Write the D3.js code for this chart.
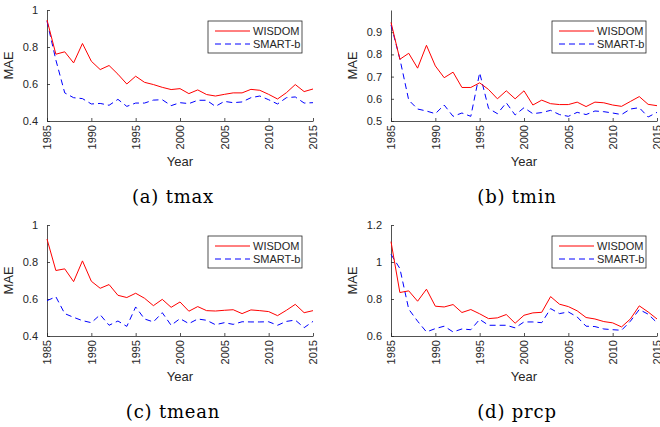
<!DOCTYPE html>
<html>
<head>
<meta charset="utf-8">
<script src="https://cdn.jsdelivr.net/npm/d3@7"></script>
<style>
  body { margin: 0; background: #fff; }
  svg text { font-family: "Liberation Sans", Arial, sans-serif; }
  svg text.cap { font-family: "DejaVu Serif", "Liberation Serif", serif; letter-spacing: 0.8px; }
</style>
</head>
<body>
<svg id="chart" width="660" height="427"></svg>
<script>
// years on the x axis
const years = d3.range(1985, 2016);
const xTicks = [1985, 1990, 1995, 2000, 2005, 2010, 2015];

// (a) tmax
const tmaxWisdom = [0.946, 0.761, 0.774, 0.714, 0.819, 0.723, 0.678, 0.700, 0.653, 0.600, 0.642,
  0.609, 0.597, 0.582, 0.570, 0.575, 0.548, 0.568, 0.543, 0.535, 0.544, 0.552, 0.552, 0.571,
  0.566, 0.544, 0.519, 0.553, 0.597, 0.559, 0.573];
const tmaxSmart = [0.940, 0.730, 0.552, 0.526, 0.521, 0.492, 0.495, 0.485, 0.517, 0.479, 0.497,
  0.497, 0.513, 0.515, 0.483, 0.499, 0.494, 0.512, 0.512, 0.479, 0.506, 0.499, 0.503, 0.526,
  0.535, 0.515, 0.492, 0.526, 0.530, 0.497, 0.499];

// (b) tmin
const tminWisdom = [0.944, 0.778, 0.805, 0.738, 0.841, 0.748, 0.695, 0.720, 0.651, 0.651, 0.672,
  0.642, 0.600, 0.636, 0.600, 0.636, 0.572, 0.594, 0.578, 0.574, 0.574, 0.585, 0.565, 0.585,
  0.582, 0.572, 0.566, 0.588, 0.610, 0.575, 0.569];
const tminSmart = [0.933, 0.780, 0.594, 0.554, 0.545, 0.533, 0.572, 0.521, 0.536, 0.521, 0.717,
  0.557, 0.533, 0.582, 0.527, 0.560, 0.533, 0.538, 0.548, 0.529, 0.521, 0.539, 0.529, 0.545,
  0.542, 0.536, 0.529, 0.554, 0.560, 0.518, 0.539];

// (c) tmean
const tmeanWisdom = [0.924, 0.754, 0.763, 0.694, 0.806, 0.696, 0.658, 0.678, 0.620, 0.608, 0.631,
  0.604, 0.564, 0.598, 0.555, 0.584, 0.534, 0.559, 0.537, 0.535, 0.539, 0.542, 0.521, 0.541,
  0.537, 0.532, 0.510, 0.539, 0.571, 0.526, 0.537];
const tmeanSmart = [0.591, 0.612, 0.521, 0.501, 0.483, 0.472, 0.515, 0.458, 0.481, 0.452, 0.557,
  0.492, 0.476, 0.526, 0.458, 0.494, 0.467, 0.492, 0.485, 0.461, 0.472, 0.463, 0.477, 0.476,
  0.476, 0.477, 0.458, 0.479, 0.486, 0.445, 0.479];

// (d) prcp
const prcpWisdom = [1.110, 0.835, 0.844, 0.788, 0.853, 0.761, 0.757, 0.770, 0.727, 0.743, 0.720,
  0.694, 0.698, 0.716, 0.669, 0.712, 0.725, 0.728, 0.813, 0.772, 0.759, 0.736, 0.700, 0.692,
  0.678, 0.671, 0.649, 0.692, 0.763, 0.730, 0.692];
const prcpSmart = [1.041, 0.965, 0.745, 0.680, 0.622, 0.640, 0.653, 0.622, 0.638, 0.634, 0.690,
  0.658, 0.658, 0.658, 0.644, 0.676, 0.676, 0.672, 0.748, 0.721, 0.730, 0.703, 0.653, 0.651,
  0.638, 0.634, 0.631, 0.680, 0.743, 0.718, 0.672];

const seriesNames = ['WISDOM', 'SMART-b'];

const panels = [
  { cap: '(a) tmax', w: tmaxWisdom, s: tmaxSmart, dom: [0.4, 1], ticks: [0.4, 0.6, 0.8, 1], x0: 47, y0: 10, capX: 173, capY: 203 },
  { cap: '(b) tmin', w: tminWisdom, s: tminSmart, dom: [0.5, 1], ticks: [0.5, 0.6, 0.7, 0.8, 0.9], x0: 391, y0: 10, capX: 517, capY: 203 },
  { cap: '(c) tmean', w: tmeanWisdom, s: tmeanSmart, dom: [0.4, 1], ticks: [0.4, 0.6, 0.8, 1], x0: 47, y0: 225, capX: 173, capY: 418 },
  { cap: '(d) prcp', w: prcpWisdom, s: prcpSmart, dom: [0.6, 1.2], ticks: [0.6, 0.8, 1, 1.2], x0: 391, y0: 225, capX: 517, capY: 418 }
];

const W = 266, H = 111;
const axisCol = '#262626';
const svg = d3.select('#chart');

panels.forEach(function (p) {
  const g = svg.append('g').attr('transform', 'translate(' + p.x0 + ',' + p.y0 + ')');
  const x = d3.scaleLinear().domain([1985, 2015]).range([0, W]);
  const y = d3.scaleLinear().domain(p.dom).range([H, 0]);

  // x axis
  const xa = g.append('g').attr('transform', 'translate(0,' + H + ')')
    .call(d3.axisBottom(x).tickValues(xTicks).tickFormat(d3.format('d')).tickSizeInner(-3).tickSizeOuter(0));
  xa.selectAll('text')
    .attr('transform', 'rotate(-90)')
    .attr('text-anchor', 'end')
    .attr('x', -4).attr('y', 0).attr('dy', '0.35em');

  // y axis
  const ya = g.append('g')
    .call(d3.axisLeft(y).tickValues(p.ticks).tickFormat(d3.format('~g')).tickSizeInner(-3).tickSizeOuter(0).tickPadding(9));

  [xa, ya].forEach(function (a) {
    a.select('.domain').attr('stroke', axisCol).attr('stroke-width', 0.8);
    a.selectAll('.tick line').attr('stroke', axisCol).attr('stroke-width', 0.8);
    a.selectAll('text').attr('fill', axisCol).style('font-size', '11px');
  });

  g.append('text').attr('x', W / 2).attr('y', H + 45)
    .attr('text-anchor', 'middle').attr('fill', axisCol).style('font-size', '13px').text('Year');
  g.append('text').attr('transform', 'translate(-34,' + (H / 2) + ') rotate(-90)')
    .attr('text-anchor', 'middle').attr('fill', axisCol).style('font-size', '13px').text('MAE');

  const line = d3.line().x(function (d, i) { return x(years[i]); }).y(function (d) { return y(d); });

  g.append('path').datum(p.s).attr('d', line)
    .attr('fill', 'none').attr('stroke', '#0000ff').attr('stroke-width', 1)
    .attr('stroke-dasharray', '6,4');
  g.append('path').datum(p.w).attr('d', line)
    .attr('fill', 'none').attr('stroke', '#ff0000').attr('stroke-width', 1);

  // legend
  const lg = g.append('g').attr('transform', 'translate(' + (W - 105) + ',11)');
  lg.append('rect').attr('width', 94).attr('height', 32)
    .attr('fill', '#fff').attr('stroke', axisCol).attr('stroke-width', 0.8);
  seriesNames.forEach(function (n, i) {
    const yy = 10 + i * 13;
    lg.append('line').attr('x1', 7).attr('x2', 42).attr('y1', yy).attr('y2', yy)
      .attr('stroke', i === 0 ? '#ff0000' : '#0000ff').attr('stroke-width', 1)
      .attr('stroke-dasharray', i === 0 ? null : '6,4');
    lg.append('text').attr('x', 45).attr('y', yy).attr('dy', '0.35em')
      .attr('fill', axisCol).style('font-size', '11px').text(n);
  });

  svg.append('text').attr('class', 'cap').attr('x', p.capX).attr('y', p.capY)
    .attr('text-anchor', 'middle').attr('fill', '#000').style('font-size', '18px').text(p.cap);
});
</script>
</body>
</html>
